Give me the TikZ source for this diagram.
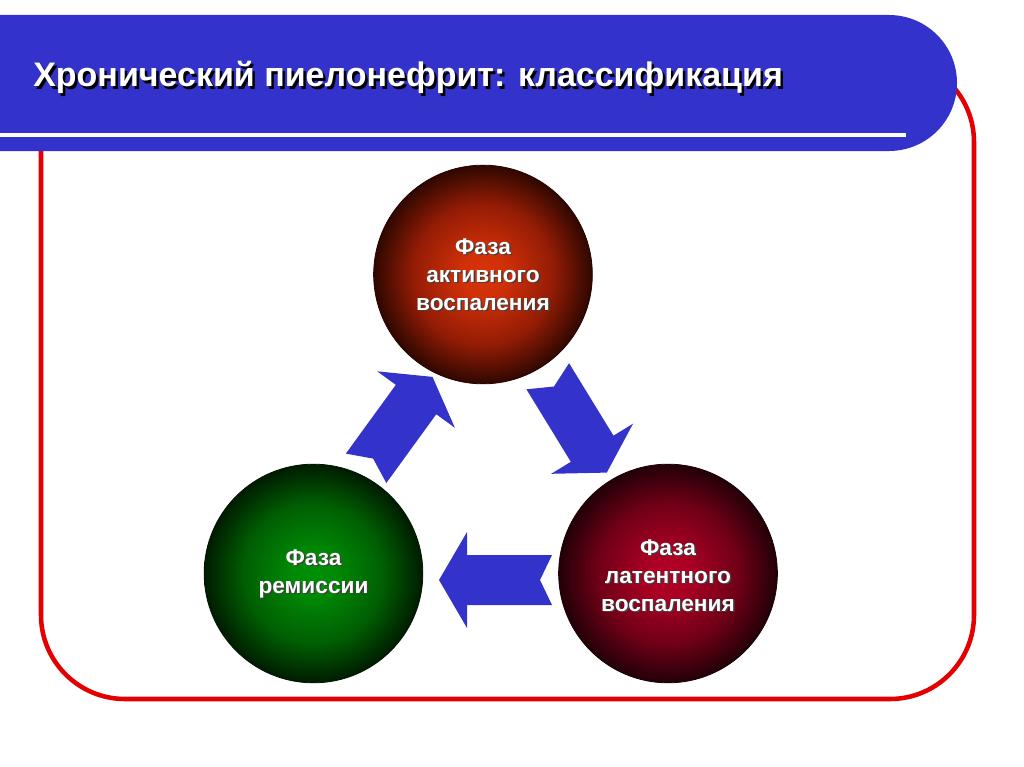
\documentclass[tikz,border=0pt]{standalone}
\usepackage{fontspec}
\setmainfont{Liberation Sans}
\usepackage{tikz}
\usepackage{xcolor}

\definecolor{bandblue}{RGB}{51,51,204}
\definecolor{framered}{RGB}{228,0,0}
\definecolor{activeedge}{rgb}{0.14,0.02,0}
\definecolor{remissionedge}{rgb}{0,0.08,0}
\definecolor{latentedge}{rgb}{0.1,0,0.02}

\pgfdeclareradialshading{activeglow}{\pgfpoint{0bp}{0bp}}{rgb(0bp)=(0.84,0.2,0.03); rgb(5bp)=(0.82,0.19,0.03); rgb(16bp)=(0.58,0.11,0.02); rgb(26bp)=(0.14,0.02,0); rgb(50bp)=(0.14,0.02,0)}
\pgfdeclareradialshading{remissionglow}{\pgfpoint{0bp}{0bp}}{rgb(0bp)=(0,0.56,0.02); rgb(5bp)=(0,0.54,0.02); rgb(16bp)=(0,0.37,0.01); rgb(26bp)=(0,0.08,0); rgb(50bp)=(0,0.08,0)}
\pgfdeclareradialshading{latentglow}{\pgfpoint{0bp}{0bp}}{rgb(0bp)=(0.7,0,0.15); rgb(5bp)=(0.67,0,0.14); rgb(16bp)=(0.44,0,0.09); rgb(26bp)=(0.1,0,0.02); rgb(50bp)=(0.1,0,0.02)}

\tikzset{
  phase/.style={circle, inner sep=0pt, minimum size=164pt, line width=0.6pt},
  phasetext/.style={text=white, align=center, font=\fontsize{17}{21}\selectfont\bfseries},
  phaseshade/.style={phasetext, text=black!75},
  blockarrow/.style={fill=bandblue, draw=none}
}

\begin{document}
\begin{tikzpicture}[x=0.75pt,y=0.75pt,yscale=-1,xscale=1]
\useasboundingbox (0,0) rectangle (1024,767);
\fill[white] (0,0) rectangle (1024,767);
\clip (0,0) rectangle (1024,767);

%Rounded Rect [id:frame] 
\draw[framered, line width=3.4pt, rounded corners=63pt] (41,58) rectangle (974,699);
%Rounded Rect [id:band] 
\fill[bandblue, rounded corners=51pt] (-90,15) rectangle (957,151);
%Straight Lines [id:rule] 
\draw[white, line width=3pt] (-5,135) -- (906,135);

% Text Node
\node (titleshade) [anchor=base west, inner sep=0pt, text=black, font=\fontsize{25.5}{30}\selectfont\bfseries] at (35.5,89.5) {Хронический пиелонефрит: классификация};
\node (title) [anchor=base west, inner sep=0pt, text=white, font=\fontsize{25.5}{30}\selectfont\bfseries] at (33,87) {Хронический пиелонефрит: классификация};

%Shape: Circle [id:active] 
\node (active) [phase, shading=activeglow, draw=activeedge] at (483,274.5) {};
%Shape: Circle [id:remission] 
\node (remission) [phase, shading=remissionglow, draw=remissionedge] at (313.5,573.5) {};
%Shape: Circle [id:latent] 
\node (latent) [phase, shading=latentglow, draw=latentedge] at (668,573.5) {};

%Shape: Right Arrow [id:up] 
\fill[blockarrow, shift={(399,423)}, rotate=-54] (-56,-25) -- (29,-25) -- (29,-48) -- (57,0) -- (29,48) -- (29,25) -- (-56,25) -- (-44,0) -- cycle;
%Shape: Right Arrow [id:down] 
\fill[blockarrow, shift={(577,424)}, rotate=58.5] (-56,-25) -- (29,-25) -- (29,-48) -- (57,0) -- (29,48) -- (29,25) -- (-56,25) -- (-44,0) -- cycle;
%Shape: Right Arrow [id:back] 
\fill[blockarrow, shift={(496,580)}, rotate=180] (-56,-25) -- (29,-25) -- (29,-48) -- (57,0) -- (29,48) -- (29,25) -- (-56,25) -- (-44,0) -- cycle;

% Text Node
\node (activeshade) [phaseshade] at ([shift={(1.5,1.5)}]active.center) {Фаза\\активного\\воспаления};
\node (activetext) [phasetext] at (active.center) {Фаза\\активного\\воспаления};
% Text Node
\node (remissionshade) [phaseshade] at ([shift={(1.5,1.5)}]remission.center) {Фаза\\ремиссии};
\node (remissiontext) [phasetext] at (remission.center) {Фаза\\ремиссии};
% Text Node
\node (latentshade) [phaseshade] at ([shift={(1.5,3.5)}]latent.center) {Фаза\\латентного\\воспаления};
\node (latenttext) [phasetext] at ([shift={(0,2)}]latent.center) {Фаза\\латентного\\воспаления};

\end{tikzpicture}
\end{document}
